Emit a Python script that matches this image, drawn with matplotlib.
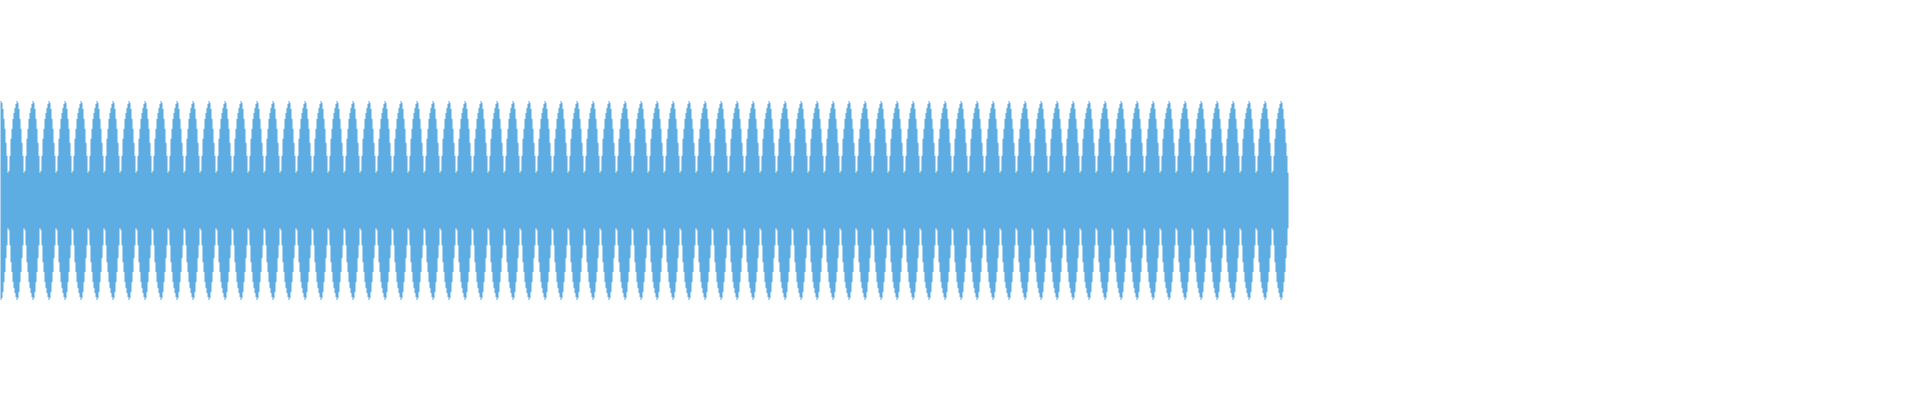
import matplotlib
matplotlib.use('Agg')
import matplotlib.pyplot as plt
import numpy as np

# envelope of one beat (16 pixel columns), peak at index 0
lobe_profile = [1.00, 0.98, 0.92, 0.82, 0.72, 0.58, 0.45, 0.28,
                0.30, 0.45, 0.62, 0.72, 0.82, 0.88, 0.93, 0.97]
n_columns = 1288
wave_color = '#5dade2'

if __name__ == "__main__":
    env = np.resize(np.array(lobe_profile), n_columns)
    x = np.arange(n_columns + 1)
    top = np.append(env, env[-1])

    fig = plt.figure(figsize=(19.2, 4), dpi=100)
    ax = fig.add_axes([0, 0, 1, 1])
    ax.fill_between(x, -top, top, step='post', color=wave_color,
                    linewidth=0, antialiased=False)
    ax.set_xlim(0, 1920)
    ax.set_ylim(-2.01, 2.01)
    ax.axis('off')
    fig.savefig('out.png', dpi=100, facecolor='white')
